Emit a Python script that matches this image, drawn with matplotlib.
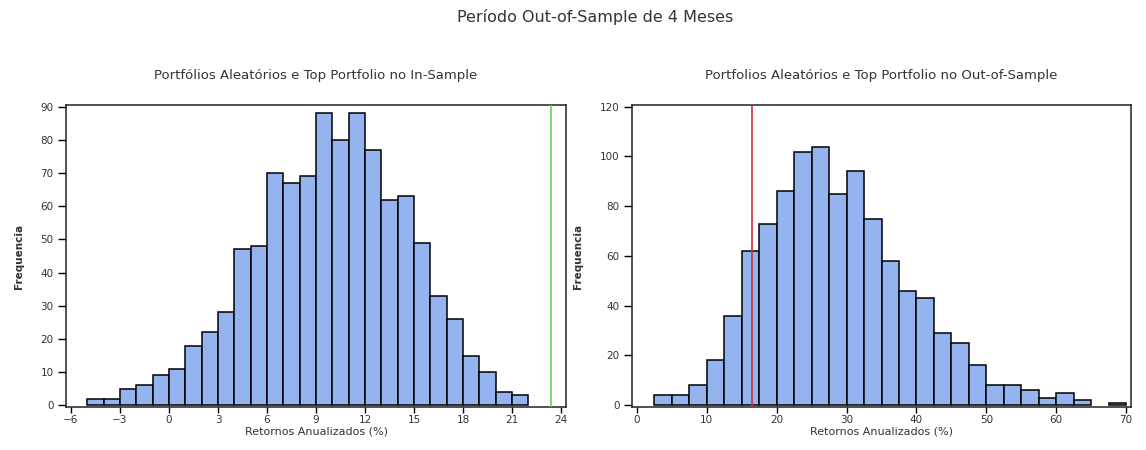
import numpy as np
from matplotlib import pyplot as plt

# painel esquerdo: in-sample (bins de 1 p.p.)
in_edges = np.arange(-5, 23, 1)
in_counts = [2, 2, 5, 6, 9, 11, 18, 22, 28, 47, 48, 70, 67, 69,
             88, 80, 88, 77, 62, 63, 49, 33, 26, 15, 10, 4, 3]
in_top = 23.4
in_xticks = [-6, -3, 0, 3, 6, 9, 12, 15, 18, 21, 24]
in_yticks = [0, 10, 20, 30, 40, 50, 60, 70, 80, 90]

# painel direito: out-of-sample (bins de 2.5 p.p.)
out_edges = np.arange(2.5, 72.5, 2.5)
out_counts = [4, 4, 8, 18, 36, 62, 73, 86, 102, 104, 85, 94, 75, 58,
              46, 43, 29, 25, 16, 8, 8, 6, 3, 5, 2, 0, 1]
out_top = 16.5
out_xticks = [0, 10, 20, 30, 40, 50, 60, 70]
out_yticks = [0, 20, 40, 60, 80, 100, 120]

bar_color = '#93b4ef'
txt = '#333333'

plt.rcParams['font.family'] = ['DejaVu Sans']

fig = plt.figure(figsize=(11.46, 4.5), dpi=100)
ax1 = fig.add_axes([0.0576, 0.0956, 0.4363, 0.6711])
ax2 = fig.add_axes([0.5515, 0.0956, 0.4354, 0.6711])

fig.text(0.519, 0.962, 'Período Out-of-Sample de 4 Meses', ha='center', va='center',
         fontsize=11.5, color=txt)


def hist_panel(ax, edges, counts, top, line_color, xticks, yticks, xlim, ylim, title):
    left = np.asarray(edges[:-1])
    widths = np.diff(edges)
    counts = np.asarray(counts)
    keep = counts > 0  # bins vazios nao aparecem
    ax.bar(left[keep], counts[keep], width=widths[keep], align='edge', color=bar_color,
           edgecolor='black', linewidth=1.1, zorder=2)
    ax.axvline(top, color=line_color, linewidth=1.2, zorder=3)
    ax.set_xlim(*xlim)
    ax.set_ylim(*ylim)
    ax.set_xticks(xticks)
    ax.set_yticks(yticks)
    ax.tick_params(direction='out', width=1, labelsize=7.5, colors='black',
                   labelcolor=txt, pad=2)
    ax.tick_params(axis='y', length=6, pad=3)
    ax.tick_params(axis='x', length=4)
    for s in ax.spines.values():
        s.set_linewidth(1.1)
        s.set_color('#222222')
    ax.set_title(title, fontsize=9.5, color=txt, pad=19)
    ax.set_xlabel('Retornos Anualizados (%)', fontsize=8, color=txt, labelpad=1)
    ax.set_ylabel('Frequencia', fontsize=7.5, fontweight='bold', color=txt, labelpad=12)


hist_panel(ax1, in_edges, in_counts, in_top, '#5cd65c', in_xticks, in_yticks,
           (-6.3, 24.3), (-0.5, 90.5),
           'Portfólios Aleatórios e Top Portfolio no In-Sample')
hist_panel(ax2, out_edges, out_counts, out_top, '#c8303c', out_xticks, out_yticks,
           (-0.7, 70.7), (-0.7, 120.7),
           'Portfolios Aleatórios e Top Portfolio no Out-of-Sample')

fig.savefig('out.png', dpi=100)
